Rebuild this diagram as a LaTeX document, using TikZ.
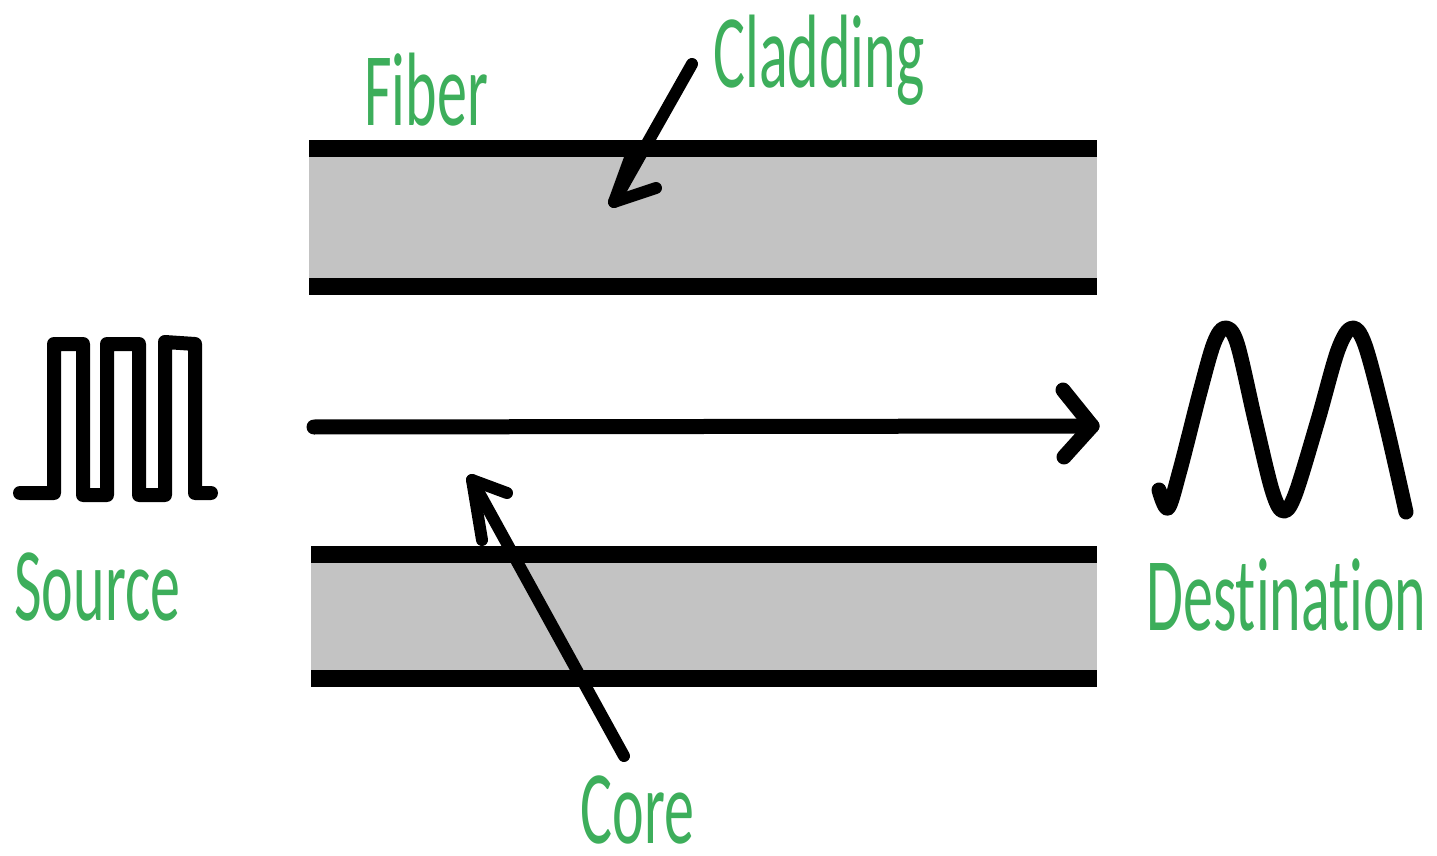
\documentclass[tikz,border=0pt]{standalone}
\usepackage{fontspec}
\setmainfont[RawFeature={-liga,-clig,-dlig,-rlig}]{Carlito}
\usepackage{graphicx}
\definecolor{lblgreen}{RGB}{61,174,91}
\definecolor{cladgray}{RGB}{195,195,195}
\newcommand\tallword[1]{\scalebox{1}[1.74]{#1}}
\begin{document}
\begin{tikzpicture}[x=0.5pt,y=-0.5pt,
  lbl/.style={text=lblgreen, inner sep=0pt, anchor=base west,
    font=\fontsize{30}{32}\selectfont},
  wall/.style={line width=8.5pt, line cap=butt},
  ink/.style={line width=7pt, line cap=round, line join=round},
  pointer/.style={line width=6pt, line cap=round, line join=round}]
\useasboundingbox (0,0) rectangle (1437,856);

% cladding bands
\fill[cladgray] (309,148) rectangle (1097,287);
\fill[cladgray] (311,555) rectangle (1097,679);
\draw[wall] (309,148.5) -- (1097,148.5);
\draw[wall] (309,286.5) -- (1097,286.5);
\draw[wall] (311,554.5) -- (1097,554.5);
\draw[wall] (311,678.5) -- (1097,678.5);

% labels
\node[lbl] (fiber) at (364,126) {\tallword{Fiber}};
\node[lbl] (cladding) at (713,88) {\tallword{Cladding}};
\node[lbl] (core) at (580,843) {\tallword{Core}};
\node[lbl] (source) at (14,620) {\tallword{Source}};
\node[lbl] (dest) at (1146,630) {\tallword{Destinat\kern0pt{}ion}};

% light path through the core
\coordinate (pin) at (314,427);
\coordinate (pout) at (1092,426);
\draw[line width=7.5pt, line cap=round] (pin) -- (pout);
\draw[ink, line width=7.5pt] (1063,390) -- (pout) -- (1064,457);

% pointer to the cladding
\coordinate (cladtail) at (692,64);
\coordinate (cladtip) at (614,202);
\draw[pointer] (cladtail) -- (cladtip);
\draw[pointer] (630,158) -- (cladtip) -- (656,188);

% pointer to the core
\coordinate (coretail) at (624,756);
\coordinate (coretip) at (472,480);
\draw[pointer] (coretail) -- (coretip);
\draw[pointer] (482,540) -- (coretip) -- (507,493);

% square-wave input
\draw[ink] (20,493) -- (54,493) -- (54,344) -- (83,344) -- (83,495)
  -- (107,495) -- (107,344) -- (139,344) -- (139,495) -- (165,495) -- (165,342)
  -- (195,344) -- (195,493) -- (211,493);

% smoothed output wave
\draw[ink, line width=7.5pt] plot[smooth, tension=0.55] coordinates {
  (1159,490) (1168,508) (1180,470) (1200,392) (1214,343) (1225,328) (1237,343)
  (1255,420) (1272,490) (1283,511) (1295,495) (1318,420) (1338,350) (1352,328)
  (1365,345) (1385,420) (1406,512)};
\end{tikzpicture}
\end{document}
